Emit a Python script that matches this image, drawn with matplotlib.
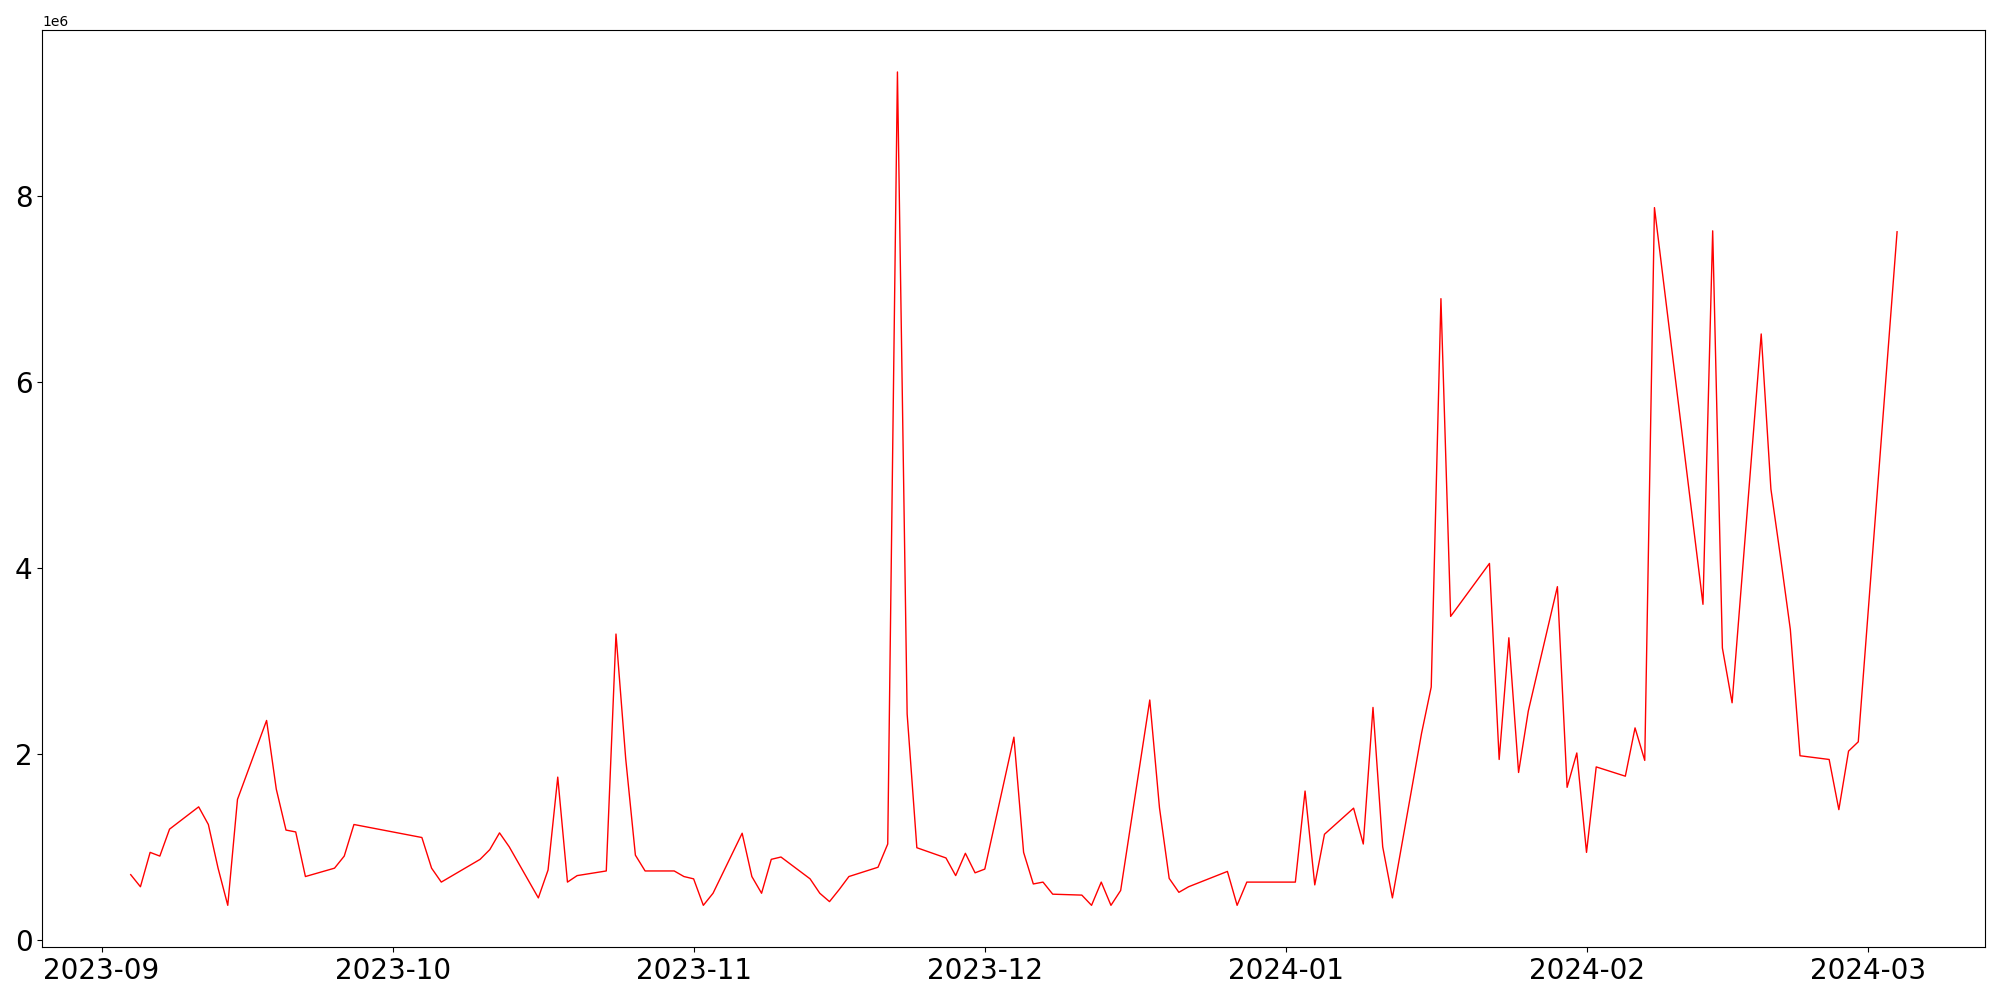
import pandas as pd
import matplotlib
matplotlib.use("Agg")
import matplotlib.pyplot as plt

# trading days (weekdays), minus market holidays and days with no data
start = "2023-09-04"
end = "2024-03-04"
skipped = ["2023-09-28", "2023-09-29", "2023-10-02", "2023-10-03", "2023-10-09",
           "2023-12-25", "2023-12-29", "2024-01-01", "2024-01-19",
           "2024-02-09", "2024-02-12", "2024-03-01"]
dates = pd.bdate_range(start, end, freq="C", holidays=skipped)

# values in millions
sep = [0.70, 0.57, 0.94, 0.90, 1.19, 1.43, 1.24, 0.77, 0.37, 1.51,
       2.36, 1.62, 1.18, 1.16, 0.68, 0.77, 0.90, 1.24]
oct_ = [1.10, 0.77, 0.62, 0.865, 0.97, 1.15, 1.00, 0.45, 0.75, 1.75,
        0.62, 0.69, 0.74, 3.29, 1.95, 0.91, 0.74, 0.74, 0.68]
nov = [0.655, 0.37, 0.50, 1.146, 0.68, 0.50, 0.865, 0.89, 0.655, 0.50,
       0.41, 0.54, 0.68, 0.78, 1.03, 9.34, 2.43, 0.99, 0.88, 0.69,
       0.93, 0.72]
dec = [0.76, 2.18, 0.94, 0.60, 0.62, 0.49, 0.48, 0.37, 0.62, 0.37,
       0.53, 2.58, 1.42, 0.66, 0.51, 0.57, 0.735, 0.37, 0.62]
jan = [0.62, 1.60, 0.59, 1.135, 1.416, 1.03, 2.50, 1.00, 0.45, 2.22,
       2.72, 6.90, 3.48, 4.05, 1.94, 3.25, 1.80, 2.46, 3.80, 1.64, 2.01]
feb = [0.94, 1.86, 1.76, 2.28, 1.93, 7.88, 3.61, 7.63, 3.14, 2.55,
       6.52, 4.85, 4.11, 3.34, 1.98, 1.94, 1.40, 2.03, 2.13]
mar = [7.62]

values = [v * 1e6 for v in sep + oct_ + nov + dec + jan + feb + mar]

fig = plt.figure(figsize=(20, 10), dpi=100)
ax = fig.add_subplot(111)
fig.subplots_adjust(left=0.0212, right=0.9927, top=0.9697, bottom=0.053)

ax.plot(dates, values, color="red", linewidth=1)

plt.xticks(fontsize=20)
plt.yticks(fontsize=20)

plt.savefig("out.png")
